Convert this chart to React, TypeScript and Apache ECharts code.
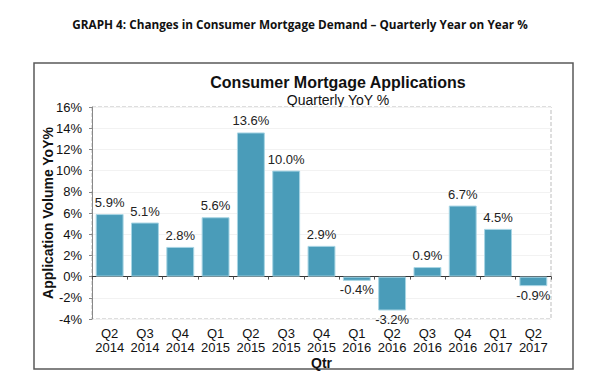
import React, { useEffect, useRef } from "react";
import * as echarts from "echarts";

const categories = [
  "Q2\n2014", "Q3\n2014", "Q4\n2014", "Q1\n2015", "Q2\n2015", "Q3\n2015", "Q4\n2015",
  "Q1\n2016", "Q2\n2016", "Q3\n2016", "Q4\n2016", "Q1\n2017", "Q2\n2017",
];
const values = [5.9, 5.1, 2.8, 5.6, 13.6, 10.0, 2.9, -0.4, -3.2, 0.9, 6.7, 4.5, -0.9];
const yMin = -4;
const yMax = 16;
const yStep = 2;

const headerTitle = "GRAPH 4: Changes in Consumer Mortgage Demand \u2013 Quarterly Year on Year %";
const chartTitle = "Consumer Mortgage Applications";
const chartSubtitle = "Quarterly YoY %";
const yName = "Application Volume YoY%";
const xName = "Qtr";

export default function App() {
  const ref = useRef<HTMLDivElement>(null);
  useEffect(() => {
    if (!ref.current) return;
    const chart = echarts.init(ref.current, undefined, { renderer: "svg" });
    const font = "'Liberation Sans', Arial, sans-serif";
    chart.setOption({
      animation: false,
      backgroundColor: "#ffffff",
      textStyle: { fontFamily: font },
      graphic: [
        {
          type: "text",
          x: 300,
          y: 24,
          scaleX: 0.94,
          originX: 0,
          originY: 0,
          style: {
            text: headerTitle,
            fontFamily: "'Open Sans', 'Noto Sans', sans-serif",
            fontWeight: "bold",
            fontSize: 12.5,
            fill: "#111",
            align: "center",
            verticalAlign: "middle",
          },
        },
        {
          type: "rect",
          shape: { x: 34, y: 63, width: 539, height: 306 },
          style: { fill: "none", stroke: "#595959", lineWidth: 1.5 },
        },
        {
          type: "text",
          x: 338,
          y: 82,
          style: {
            text: chartTitle,
            fontFamily: font,
            fontWeight: "bold",
            fontSize: 16,
            fill: "#111",
            align: "center",
            verticalAlign: "middle",
          },
        },
        {
          type: "text",
          x: 338,
          y: 100,
          style: {
            text: chartSubtitle,
            fontFamily: font,
            fontSize: 14,
            fill: "#111",
            align: "center",
            verticalAlign: "middle",
          },
        },
      ],
      grid: {
        left: 92,
        right: 53,
        top: 107,
        bottom: 65,
        show: true,
        borderColor: "#bdbdbd",
        borderWidth: 1,
        borderType: "dashed",
      },
      xAxis: [
        {
          type: "category",
          data: categories,
          position: "bottom",
          axisLine: { show: false, onZero: false },
          axisTick: { show: false },
          axisLabel: {
            fontFamily: font,
            fontSize: 13,
            color: "#111",
            lineHeight: 14,
            margin: 7,
            interval: 0,
          },
          name: xName,
          nameLocation: "middle",
          nameGap: 37,
          nameMoveOverlap: false,
          nameTextStyle: { fontFamily: font, fontWeight: "bold", fontSize: 14, color: "#111" },
        },
        {
          type: "category",
          data: categories,
          position: "bottom",
          axisLine: { show: true, onZero: true, lineStyle: { color: "#333", width: 1.2 } },
          axisTick: { show: true, length: 3, lineStyle: { color: "#555" } },
          axisLabel: { show: false },
        },
      ],
      yAxis: {
        type: "value",
        min: yMin,
        max: yMax,
        interval: yStep,
        axisLine: { show: true, lineStyle: { color: "#888" } },
        axisTick: { show: true, length: 3, lineStyle: { color: "#888" } },
        splitLine: { show: true, lineStyle: { color: "#f2f2f2" } },
        axisLabel: {
          fontFamily: font,
          fontSize: 13,
          color: "#111",
          margin: 10,
          formatter: (v: number) => `${v}%`,
        },
        name: yName,
        nameLocation: "middle",
        nameRotate: 90,
        nameGap: 37,
        nameMoveOverlap: false,
        nameTextStyle: { fontFamily: font, fontWeight: "bold", fontSize: 14, color: "#111" },
      },
      series: [
        {
          type: "bar",
          xAxisIndex: 0,
          data: values.map((v) => ({
            value: v,
            label:
              v < 0
                ? { position: "bottom", distance: 3, lineHeight: 12 }
                : { position: "top", distance: 5 },
          })),
          barCategoryGap: "21%",
          itemStyle: { color: "#4a9cb9", borderColor: "#a8d5e4", borderWidth: 1 },
          label: {
            show: true,
            fontFamily: font,
            fontSize: 13,
            color: "#222",
            formatter: (p: any) => `${Number(p.value).toFixed(1)}%`,
          },
        },
      ],
    });
    return () => chart.dispose();
  }, []);
  return (
    <div
      ref={ref}
      style={{ position: "fixed", left: 0, top: 0, width: 604, height: 384 }}
    />
  );
}
